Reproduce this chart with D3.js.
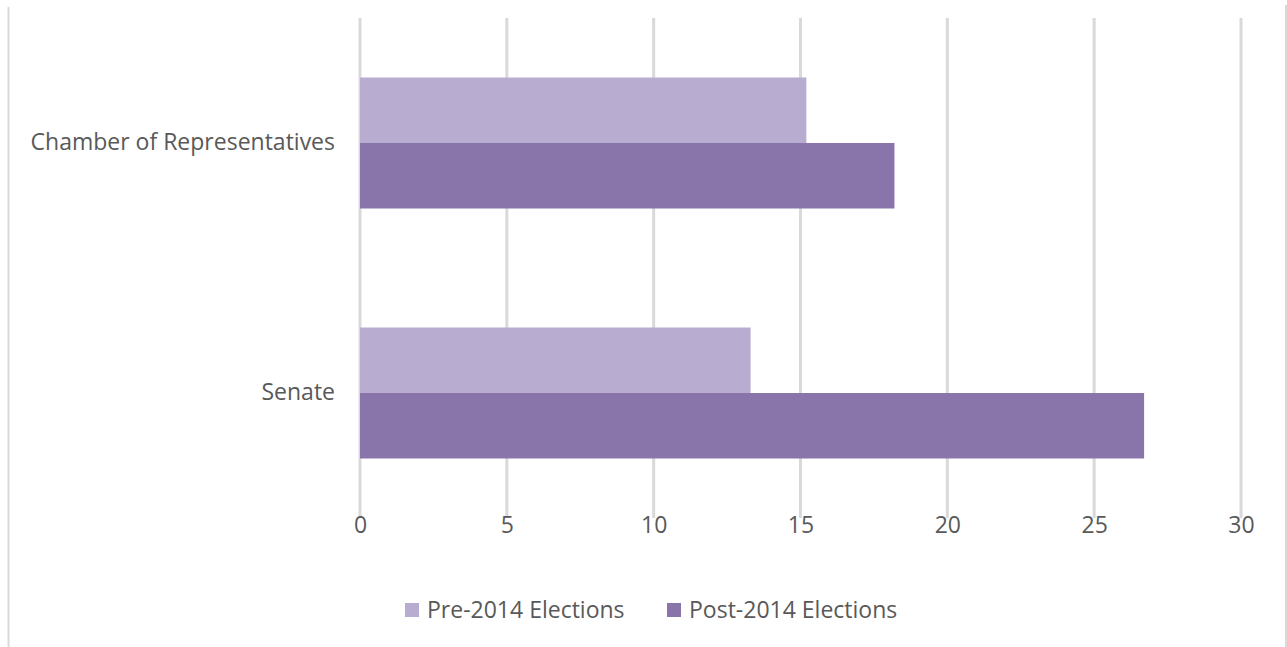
<!doctype html>
<html>
<head>
<meta charset="UTF-8">
<title>Women in parliament</title>
<script src="https://d3js.org/d3.v7.min.js"></script>
<style>
  body { margin: 0; background: #fff; }
  text { font-family: "Open Sans", sans-serif; fill: #595959; }
</style>
</head>
<body>
<svg id="chart" width="1287" height="647"></svg>
<script>
var categories = ["Chamber of Representatives", "Senate"];
var series = ["Pre-2014 Elections", "Post-2014 Elections"];
var preValues = [15.2, 13.3];
var postValues = [18.2, 26.7];
var ticks = [0, 5, 10, 15, 20, 25, 30];
var colors = ["#b8acd0", "#8a75aa"];

var svg = d3.select("#chart");
var plotTop = 18, plotBottom = 518, plotLeft = 360, plotRight = 1241;
var fontSize = 23;

// frame edges
svg.append("line").attr("x1", 8.5).attr("x2", 8.5).attr("y1", 7).attr("y2", 647)
    .attr("stroke", "#d9d9d9").attr("stroke-width", 2);
svg.append("line").attr("x1", 1286).attr("x2", 1286).attr("y1", 5).attr("y2", 647)
    .attr("stroke", "#d9d9d9").attr("stroke-width", 2);

var x = d3.scaleLinear().domain([0, 30]).range([plotLeft, plotRight]);
var y = d3.scaleBand().domain(categories).range([plotTop, plotBottom])
    .paddingInner(0.476).paddingOuter(0.238);
var ySub = d3.scaleBand().domain(series).range([0, y.bandwidth()]);

// gridlines
svg.append("g").selectAll("line").data(ticks).enter().append("line")
    .attr("x1", function(d) { return x(d); })
    .attr("x2", function(d) { return x(d); })
    .attr("y1", plotTop).attr("y2", plotBottom)
    .attr("stroke", "#d9d9d9").attr("stroke-width", 3);

// bars
var rows = categories.map(function(c, i) {
    return [{cat: c, s: series[0], v: preValues[i]}, {cat: c, s: series[1], v: postValues[i]}];
});
svg.append("g").selectAll("g").data(rows).enter().append("g")
    .attr("transform", function(d) { return "translate(0," + y(d[0].cat) + ")"; })
    .selectAll("rect").data(function(d) { return d; }).enter().append("rect")
    .attr("x", x(0))
    .attr("y", function(d) { return ySub(d.s); })
    .attr("width", function(d) { return x(d.v) - x(0); })
    .attr("height", ySub.bandwidth())
    .attr("fill", function(d, i) { return colors[i]; });

// x axis labels
var xAxis = svg.append("g").attr("transform", "translate(0," + (plotBottom + 8) + ")")
    .call(d3.axisBottom(x).tickValues(ticks).tickSize(0).tickPadding(0));
xAxis.select(".domain").remove();
xAxis.selectAll("text").attr("font-size", fontSize).attr("dy", "0.32em")
    .style("font-family", "'Open Sans', sans-serif").attr("fill", "#595959");

// category labels
var yAxis = svg.append("g").attr("transform", "translate(" + (plotLeft - 25) + ",0)")
    .call(d3.axisLeft(y).tickSize(0).tickPadding(0));
yAxis.select(".domain").remove();
yAxis.selectAll("text").attr("font-size", fontSize)
    .style("font-family", "'Open Sans', sans-serif").attr("fill", "#595959");

// legend
var legendX = [405, 667];
var legend = svg.append("g").selectAll("g").data(series).enter().append("g")
    .attr("transform", function(d, i) { return "translate(" + legendX[i] + ",603)"; });
legend.append("rect").attr("width", 14).attr("height", 14)
    .attr("fill", function(d, i) { return colors[i]; });
legend.append("text").attr("x", 22).attr("y", 7).attr("dy", "0.35em")
    .attr("font-size", fontSize).text(function(d) { return d; });
</script>
</body>
</html>
